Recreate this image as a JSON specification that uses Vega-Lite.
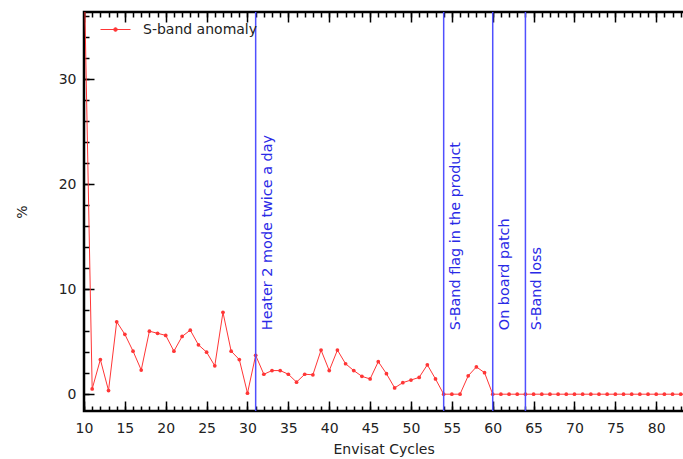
{
  "$schema": "https://vega.github.io/schema/vega-lite/v6.json",
  "width": 609,
  "height": 399,
  "autosize": {"type": "none"},
  "padding": {"left": 84, "top": 12, "right": 0, "bottom": 48},
  "background": "white",
  "config": {
    "font": "DejaVu Sans",
    "view": {"stroke": "#000", "strokeWidth": 2.5},
    "axis": {
      "grid": false, "domain": false, "tickColor": "#000", "tickWidth": 1.5,
      "labelFont": "DejaVu Sans", "labelFontSize": 14, "labelColor": "#222",
      "titleFont": "DejaVu Sans", "titleFontSize": 14, "titleFontWeight": "normal", "titleColor": "#222"
    }
  },
  "data": {"values": [
    {"cycle": 10, "pct": 41}, {"cycle": 11, "pct": 0.5}, {"cycle": 12, "pct": 3.3}, {"cycle": 13, "pct": 0.35},
    {"cycle": 14, "pct": 6.9}, {"cycle": 15, "pct": 5.7}, {"cycle": 16, "pct": 4.1}, {"cycle": 17, "pct": 2.3},
    {"cycle": 18, "pct": 6.0}, {"cycle": 19, "pct": 5.8}, {"cycle": 20, "pct": 5.6}, {"cycle": 21, "pct": 4.1},
    {"cycle": 22, "pct": 5.5}, {"cycle": 23, "pct": 6.1}, {"cycle": 24, "pct": 4.7}, {"cycle": 25, "pct": 4.0},
    {"cycle": 26, "pct": 2.7}, {"cycle": 27, "pct": 7.8}, {"cycle": 28, "pct": 4.1}, {"cycle": 29, "pct": 3.3},
    {"cycle": 30, "pct": 0.1}, {"cycle": 31, "pct": 3.7}, {"cycle": 32, "pct": 1.9}, {"cycle": 33, "pct": 2.25},
    {"cycle": 34, "pct": 2.25}, {"cycle": 35, "pct": 1.9}, {"cycle": 36, "pct": 1.15}, {"cycle": 37, "pct": 1.9},
    {"cycle": 38, "pct": 1.85}, {"cycle": 39, "pct": 4.2}, {"cycle": 40, "pct": 2.25}, {"cycle": 41, "pct": 4.2},
    {"cycle": 42, "pct": 2.9}, {"cycle": 43, "pct": 2.25}, {"cycle": 44, "pct": 1.7}, {"cycle": 45, "pct": 1.45},
    {"cycle": 46, "pct": 3.1}, {"cycle": 47, "pct": 1.95}, {"cycle": 48, "pct": 0.6}, {"cycle": 49, "pct": 1.1},
    {"cycle": 50, "pct": 1.35}, {"cycle": 51, "pct": 1.6}, {"cycle": 52, "pct": 2.8}, {"cycle": 53, "pct": 1.45},
    {"cycle": 54, "pct": 0}, {"cycle": 55, "pct": 0}, {"cycle": 56, "pct": 0}, {"cycle": 57, "pct": 1.75},
    {"cycle": 58, "pct": 2.6}, {"cycle": 59, "pct": 2.05}, {"cycle": 60, "pct": 0}, {"cycle": 61, "pct": 0},
    {"cycle": 62, "pct": 0}, {"cycle": 63, "pct": 0}, {"cycle": 64, "pct": 0}, {"cycle": 65, "pct": 0},
    {"cycle": 66, "pct": 0}, {"cycle": 67, "pct": 0}, {"cycle": 68, "pct": 0}, {"cycle": 69, "pct": 0},
    {"cycle": 70, "pct": 0}, {"cycle": 71, "pct": 0}, {"cycle": 72, "pct": 0}, {"cycle": 73, "pct": 0},
    {"cycle": 74, "pct": 0}, {"cycle": 75, "pct": 0}, {"cycle": 76, "pct": 0}, {"cycle": 77, "pct": 0},
    {"cycle": 78, "pct": 0}, {"cycle": 79, "pct": 0}, {"cycle": 80, "pct": 0}, {"cycle": 81, "pct": 0},
    {"cycle": 82, "pct": 0}, {"cycle": 83, "pct": 0}, {"cycle": 84, "pct": 0}
  ]},
  "layer": [
    {
      "mark": {"type": "line", "strokeWidth": 1, "clip": true, "point": {"filled": true, "size": 14}},
      "encoding": {
        "x": {"field": "cycle", "type": "quantitative",
          "scale": {"domain": [10, 84.5], "nice": false, "zero": false},
          "axis": {"orient": "bottom", "values": [10, 15, 20, 25, 30, 35, 40, 45, 50, 55, 60, 65, 70, 75, 80],
            "tickSize": -10, "labelPadding": 20, "labelFlush": false, "title": "Envisat Cycles", "titlePadding": 7,
            "titleAnchor": "start", "titleX": 249}},
        "y": {"field": "pct", "type": "quantitative",
          "scale": {"domain": [-1.6, 36.4], "nice": false, "zero": false},
          "axis": {"orient": "left", "values": [0, 10, 20, 30], "tickSize": -10, "labelPadding": 18,
            "title": "%", "titlePadding": 29}},
        "color": {"datum": "S-band anomaly", "scale": {"range": ["#ff3636"]},
          "legend": {"orient": "none", "legendX": 16, "legendY": 2, "title": null, "padding": 0,
            "symbolType": "M-1,0H1M-0.12,0A0.12,0.12 0 1,0 0.12,0A0.12,0.12 0 1,0 -0.12,0",
            "symbolSize": 900, "symbolStrokeWidth": 1, "labelOffset": 12,
            "labelFont": "DejaVu Sans", "labelFontSize": 14, "labelColor": "#222"}}
      }
    },
    {
      "mark": {"type": "point", "opacity": 0},
      "encoding": {
        "x": {"field": "cycle", "type": "quantitative",
          "axis": {"orient": "bottom", "values": [10,11,12,13,14,15,16,17,18,19,20,21,22,23,24,25,26,27,28,29,30,31,32,33,34,35,36,37,38,39,40,41,42,43,44,45,46,47,48,49,50,51,52,53,54,55,56,57,58,59,60,61,62,63,64,65,66,67,68,69,70,71,72,73,74,75,76,77,78,79,80,81,82,83,84],
            "tickSize": -5, "labels": false, "title": null}},
        "y": {"field": "pct", "type": "quantitative",
          "axis": {"orient": "left", "values": [0,2,4,6,8,10,12,14,16,18,20,22,24,26,28,30,32,34,36],
            "tickSize": -5, "labels": false, "title": null}}
      }
    },
    {
      "mark": {"type": "point", "opacity": 0},
      "encoding": {
        "x": {"field": "cycle", "type": "quantitative",
          "axis": {"orient": "top", "values": [10, 15, 20, 25, 30, 35, 40, 45, 50, 55, 60, 65, 70, 75, 80],
            "tickSize": -10, "labels": false, "title": null}},
        "y": {"field": "pct", "type": "quantitative",
          "axis": {"orient": "right", "values": [0, 10, 20, 30], "tickSize": -10, "labels": false, "title": null}}
      }
    },
    {
      "mark": {"type": "point", "opacity": 0},
      "encoding": {
        "x": {"field": "cycle", "type": "quantitative",
          "axis": {"orient": "top", "values": [10,11,12,13,14,15,16,17,18,19,20,21,22,23,24,25,26,27,28,29,30,31,32,33,34,35,36,37,38,39,40,41,42,43,44,45,46,47,48,49,50,51,52,53,54,55,56,57,58,59,60,61,62,63,64,65,66,67,68,69,70,71,72,73,74,75,76,77,78,79,80,81,82,83,84],
            "tickSize": -5, "labels": false, "title": null}},
        "y": {"field": "pct", "type": "quantitative",
          "axis": {"orient": "right", "values": [0,2,4,6,8,10,12,14,16,18,20,22,24,26,28,30,32,34,36],
            "tickSize": -5, "labels": false, "title": null}}
      }
    },
    {
      "data": {"values": [
        {"cycle": 31, "label": "Heater 2 mode twice a day"},
        {"cycle": 54, "label": "S-Band flag in the product"},
        {"cycle": 60, "label": "On board patch"},
        {"cycle": 64, "label": "S-Band loss"}
      ]},
      "layer": [
        {
          "mark": {"type": "rule", "color": "#5050ff", "strokeWidth": 1.5},
          "encoding": {"x": {"field": "cycle", "type": "quantitative", "axis": null}}
        },
        {
          "mark": {"type": "text", "angle": 270, "align": "left", "baseline": "middle", "dy": 12,
            "color": "#2a2ae6", "fontSize": 14.4, "font": "DejaVu Sans"},
          "encoding": {
            "x": {"field": "cycle", "type": "quantitative", "axis": null},
            "y": {"datum": 6.1, "type": "quantitative", "axis": null},
            "text": {"field": "label"}
          }
        }
      ]
    }
  ],
  "resolve": {"axis": {"x": "independent", "y": "independent"}}
}
